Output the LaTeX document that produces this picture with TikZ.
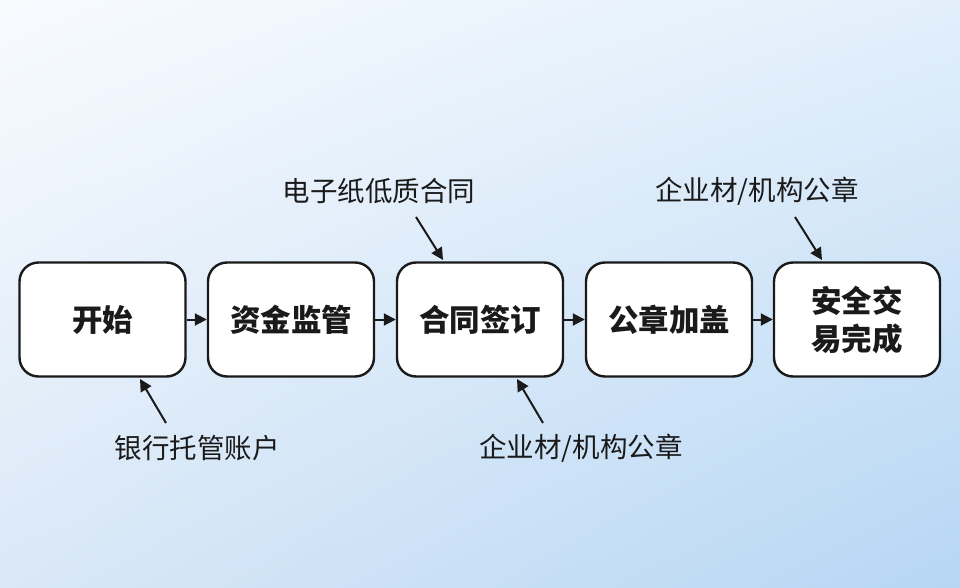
\documentclass[tikz,border=0pt]{standalone}
\usepackage{fontspec}
\newfontfamily\cjk{Noto Sans CJK SC}
\usetikzlibrary{arrows.meta,shadings}
\definecolor{bgTL}{HTML}{F8FBFE}
\definecolor{bgTR}{HTML}{E2EFFB}
\definecolor{bgBL}{HTML}{DAE8F7}
\definecolor{bgBR}{HTML}{B6D6F4}
\definecolor{ink}{HTML}{1A1A1A}
\tikzset{
  stepbox/.style={draw=ink, line width=2.4pt, fill=white, rounded corners=19pt,
    minimum width=166pt, minimum height=114pt, inner sep=0pt,
    font=\cjk\bfseries\fontsize{30.5}{38}\selectfont, text=ink, align=center},
  note/.style={font=\cjk\fontsize{27.5}{32}\selectfont, text=ink, inner sep=0pt},
  flow/.style={draw=ink, line width=2pt, -{Triangle[length=12pt,width=12pt]}},
}
\begin{document}
\begin{tikzpicture}[x=1pt,y=-1pt]
\useasboundingbox (0,0) rectangle (960,588);
\shade[upper left=bgTL, upper right=bgTR, lower left=bgBL, lower right=bgBR] (0,0) rectangle (960,588);
\node[stepbox] (b1) at (102.5,319.5) {开始};
\node[stepbox] (b2) at (291,319.5) {资金监管};
\node[stepbox] (b3) at (480,319.5) {合同签订};
\node[stepbox] (b4) at (669,319.5) {公章加盖};
\node[stepbox] (b5) at (857,319.5) {安全交\\易完成};
\draw[flow] (b1) -- (b2);
\draw[flow] (b2) -- (b3);
\draw[flow] (b3) -- (b4);
\draw[flow] (b4) -- (b5);
\node[note] (n1) at (197,448) {银行托管账户};
\node[note] (n2) at (379,191) {电子纸低质合同};
\node[note] (n3) at (581,448) {企业材/机构公章};
\node[note] (n4) at (757,191) {企业材/机构公章};
\coordinate (s1) at (166,423); \coordinate (e1) at (140,379);
\coordinate (s2) at (416,217); \coordinate (e2) at (443,260);
\coordinate (s3) at (543,423); \coordinate (e3) at (517,379);
\coordinate (s4) at (795,217); \coordinate (e4) at (822,260);
\draw[flow] (s1) -- (e1);
\draw[flow] (s2) -- (e2);
\draw[flow] (s3) -- (e3);
\draw[flow] (s4) -- (e4);
\end{tikzpicture}
\end{document}
